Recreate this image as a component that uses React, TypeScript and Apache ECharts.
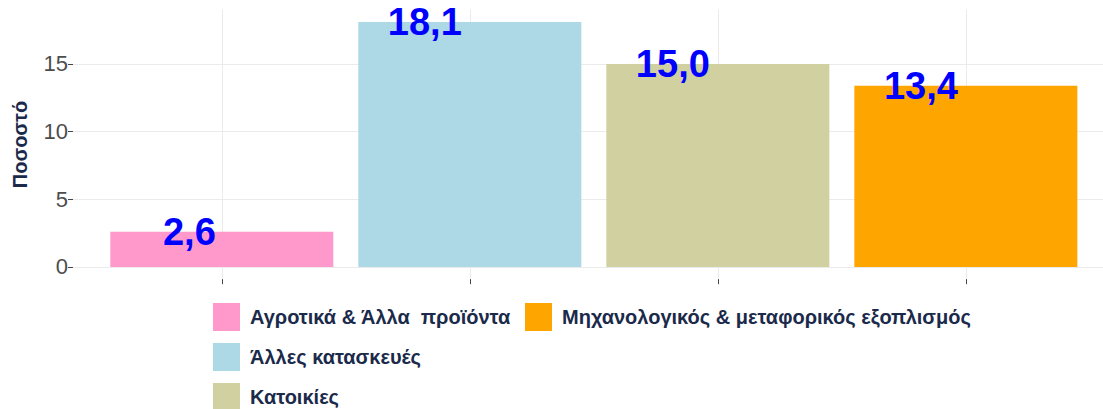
import React, { useEffect, useRef } from "react";
import * as echarts from "echarts";

const categories = [
  "Αγροτικά & Άλλα  προϊόντα",
  "Άλλες κατασκευές",
  "Κατοικίες",
  "Μηχανολογικός & μεταφορικός εξοπλισμός",
];
const values = [2.6, 18.1, 15.0, 13.4];
const colors = ["#ff99cc", "#add8e6", "#d1d0a0", "#ffa500"];
const yTicks = [0, 5, 10, 15];
const yAxisName = "Ποσοστό";

const FONT = "'Liberation Sans', Arial, sans-serif";

const fmt = (v: number) => v.toFixed(1).replace(".", ",");

export default function App() {
  const ref = useRef<HTMLDivElement>(null);
  useEffect(() => {
    if (!ref.current) return;
    const chart = echarts.init(ref.current, null, { renderer: "svg" });
    const xPos = categories.map((_, i) => i + 1);
    const series = categories.map((name, i) => ({
      name,
      type: "bar",
      data: [[xPos[i], values[i]]],
      barWidth: 223,
      barGap: "-100%",
      itemStyle: { color: colors[i] },
      label: {
        show: true,
        position: ["50%", 0],
        align: "right",
        verticalAlign: "middle",
        offset: [-2 * fmt(values[i]).length, 0],
        color: "#0000ff",
        fontWeight: "bold",
        fontSize: 38,
        fontFamily: FONT,
        formatter: (p: any) => fmt(Number(p.value[1])),
      },
    }));
    const legendText = {
      color: "#1b2a4a",
      fontWeight: "bold",
      fontSize: 20,
      fontFamily: FONT,
      padding: [0, 0, 0, 5],
    };
    const legendBase = {
      orient: "vertical",
      top: 303,
      height: 140,
      padding: 0,
      icon: "rect",
      itemWidth: 27,
      itemHeight: 28,
      itemGap: 12,
      selectedMode: false,
      textStyle: legendText,
    };
    chart.setOption({
      animation: false,
      grid: { left: 73, right: 0, top: 9.8, bottom: 129.8 },
      xAxis: {
        type: "value",
        min: 0.4,
        max: 4.553,
        axisLine: { show: false, onZero: false },
        axisTick: {
          show: true,
          customValues: xPos,
          length: 5,
          lineStyle: { color: "#444" },
        },
        axisLabel: { show: false, customValues: xPos },
        splitLine: { show: true, lineStyle: { color: "#ebebeb", width: 1 } },
      },
      yAxis: {
        type: "value",
        min: -0.905,
        max: 19.005,
        name: yAxisName,
        nameLocation: "middle",
        nameGap: 43,
        nameTextStyle: {
          color: "#1b2a4a",
          fontWeight: "bold",
          fontSize: 20,
          fontFamily: FONT,
        },
        axisLine: { show: false },
        axisTick: {
          show: true,
          customValues: yTicks,
          length: 5,
          lineStyle: { color: "#444" },
        },
        axisLabel: {
          customValues: yTicks,
          color: "#4d4d4d",
          fontSize: 22,
          fontFamily: FONT,
          margin: 5,
        },
        splitLine: { show: true, lineStyle: { color: "#ebebeb", width: 1 } },
      },
      legend: [
        { ...legendBase, data: categories.slice(0, 3), left: 213 },
        { ...legendBase, data: categories.slice(3), left: 525 },
      ],
      series,
    });
    return () => chart.dispose();
  }, []);
  return (
    <div
      ref={ref}
      style={{ position: "fixed", left: 0, top: 0, width: 1103, height: 409, background: "#fff" }}
    />
  );
}
